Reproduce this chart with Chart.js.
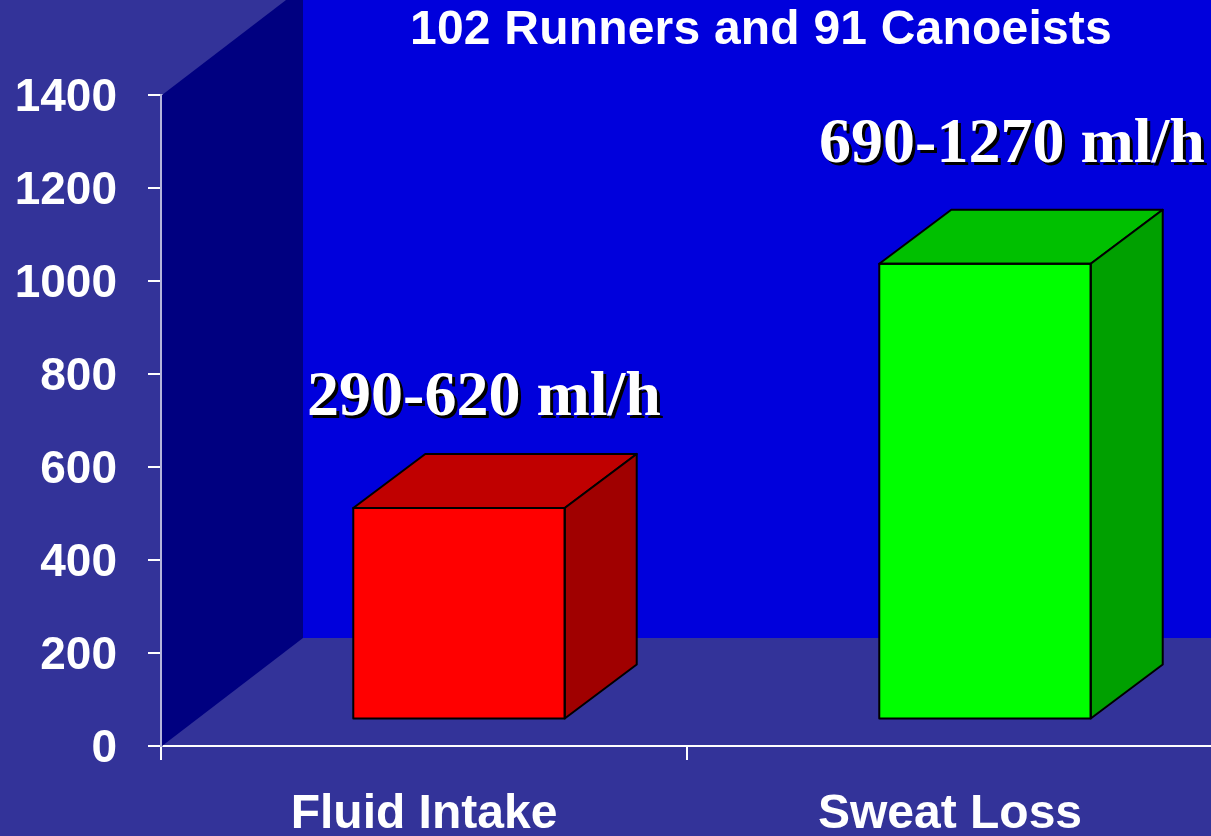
<!DOCTYPE html>
<html>
<head>
<meta charset="utf-8">
<title>Fluid intake and sweat loss</title>
<script src="https://cdn.jsdelivr.net/npm/chart.js@4"></script>
<style>
    html, body { margin: 0; padding: 0; background: #333399; overflow: hidden; }
    #wrap { width: 1211px; height: 836px; overflow: hidden; }
</style>
</head>
<body>
<div id="wrap"><canvas id="chart" width="1220" height="836"></canvas></div>
<script>
const categories = ['Fluid Intake', 'Sweat Loss'];
const midValues = [455, 980];
const rangeLabels = ['290-620 ml/h', '690-1270 ml/h'];
const frontColors = ['#ff0000', '#00ff00'];
const topColors = ['#c00000', '#00c000'];
const sideColors = ['#a00000', '#00a000'];
const chartTitle = '102 Runners and 91 Canoeists';

// how far the bars and the back wall sit behind the axis plane
const barShift = { x: 35, y: -26.5 };
const barDepth = { x: 72, y: -54 };
const wallDepth = { x: 142, y: -108 };
const labelShift = [{ x: 25, y: -92.5 }, { x: 27, y: -102 }];

const room3d = {
    id: 'room3d',
    beforeDatasetsDraw(chart) {
        const { ctx, chartArea: a } = chart;
        const wx = a.left + wallDepth.x, wy = wallDepth.y;
        ctx.save();
        // back wall
        ctx.fillStyle = '#0000dc';
        ctx.fillRect(wx, a.top + wy, a.right - wx + 10, a.bottom - a.top);
        // left wall
        ctx.fillStyle = '#000080';
        ctx.beginPath();
        ctx.moveTo(a.left + 1, a.top);
        ctx.lineTo(wx, a.top + wy);
        ctx.lineTo(wx, a.bottom + wy);
        ctx.lineTo(a.left + 1, a.bottom);
        ctx.closePath();
        ctx.fill();
        ctx.restore();
    },
    beforeDatasetDraw(chart) {
        chart.ctx.save();
        chart.ctx.translate(barShift.x, barShift.y);
    },
    afterDatasetDraw(chart) {
        chart.ctx.restore();
    },
    afterDatasetsDraw(chart) {
        const ctx = chart.ctx;
        const bars = chart.getDatasetMeta(0).data;
        bars.forEach((bar, i) => {
            const half = bar.width / 2;
            const l = bar.x - half + barShift.x;
            const r = bar.x + half + barShift.x;
            const t = bar.y + barShift.y;
            const b = bar.base + barShift.y;
            ctx.save();
            ctx.strokeStyle = '#000000';
            ctx.lineWidth = 2;
            ctx.lineJoin = 'round';
            // top face
            ctx.fillStyle = topColors[i];
            ctx.beginPath();
            ctx.moveTo(l, t);
            ctx.lineTo(l + barDepth.x, t + barDepth.y);
            ctx.lineTo(r + barDepth.x, t + barDepth.y);
            ctx.lineTo(r, t);
            ctx.closePath();
            ctx.fill();
            ctx.stroke();
            // side face
            ctx.fillStyle = sideColors[i];
            ctx.beginPath();
            ctx.moveTo(r, t);
            ctx.lineTo(r + barDepth.x, t + barDepth.y);
            ctx.lineTo(r + barDepth.x, b + barDepth.y);
            ctx.lineTo(r, b);
            ctx.closePath();
            ctx.fill();
            ctx.stroke();
            // outline of the front face, centred on its edge
            ctx.strokeRect(l, t, r - l, b - t);
            // range label, white over a hard black shadow
            ctx.font = 'bold 64px "Liberation Serif"';
            ctx.textAlign = 'center';
            ctx.textBaseline = 'alphabetic';
            const tx = bar.x + barShift.x + labelShift[i].x;
            const ty = t + labelShift[i].y;
            ctx.fillStyle = '#000000';
            ctx.fillText(rangeLabels[i], tx + 3, ty + 3);
            ctx.fillStyle = '#ffffff';
            ctx.fillText(rangeLabels[i], tx, ty);
            ctx.restore();
        });
        ctx.save();
        ctx.font = 'bold 48px "Liberation Sans"';
        ctx.letterSpacing = '0.2px';
        ctx.fillStyle = '#ffffff';
        ctx.textAlign = 'center';
        ctx.textBaseline = 'alphabetic';
        ctx.fillText(chartTitle, 761, 44);
        ctx.restore();
    }
};

new Chart(document.getElementById('chart'), {
    type: 'bar',
    data: {
        labels: categories,
        datasets: [{
            data: midValues,
            backgroundColor: frontColors,
            borderWidth: 0,
            barPercentage: 0.402,
            categoryPercentage: 1
        }]
    },
    plugins: [room3d],
    options: {
        responsive: false,
        animation: false,
        layout: { padding: { top: 95, right: 7, left: 0, bottom: 0 } },
        plugins: { legend: { display: false }, title: { display: false }, tooltip: { enabled: false } },
        scales: {
            x: {
                afterFit: s => { s.height = 90; },
                border: { color: '#ffffff', width: 2 },
                grid: { drawOnChartArea: false, color: '#ffffff', tickLength: 14, lineWidth: 2 },
                ticks: { color: '#ffffff', padding: 26, maxRotation: 0, font: { family: '"Liberation Sans"', weight: 'bold', size: 48 } }
            },
            y: {
                min: 0,
                max: 1400,
                afterFit: s => { s.width = 161; },
                border: { color: '#b4b4dc', width: 3 },
                grid: { drawOnChartArea: false, color: '#ffffff', tickLength: 13, lineWidth: 2 },
                ticks: {
                    stepSize: 200,
                    color: '#ffffff',
                    padding: 31,
                    labelOffset: 3,
                    callback: v => String(v),
                    font: { family: '"Liberation Sans"', weight: 'bold', size: 46 }
                }
            }
        }
    }
});
</script>
</body>
</html>
